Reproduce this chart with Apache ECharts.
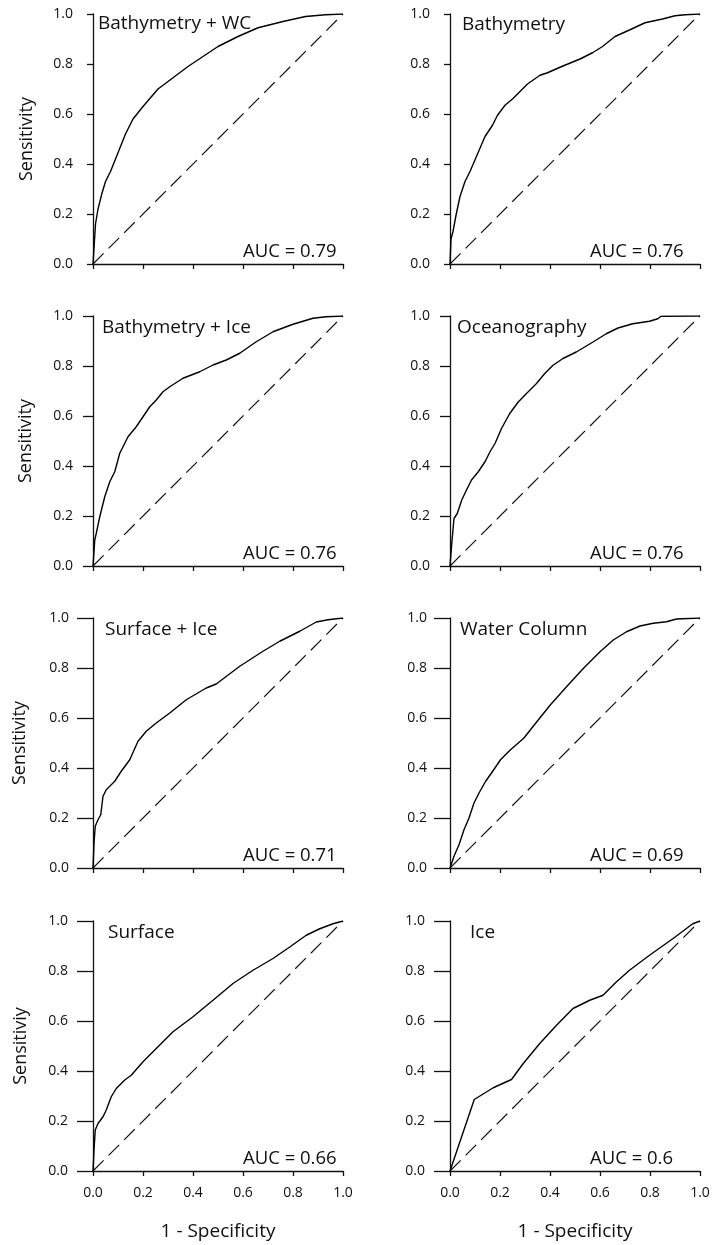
<!DOCTYPE html>
<html>
<head>
<meta charset="utf-8">
<script src="https://cdn.jsdelivr.net/npm/echarts@6/dist/echarts.min.js"></script>
<style>
  html, body { margin: 0; padding: 0; background: #fff; }
  #chart { width: 714px; height: 1245px; }
</style>
</head>
<body>
<div id="chart"></div>
<script>
// ROC curves for eight predictor sets: false positive rate (1 - specificity) vs. sensitivity
const panelNames = ['Bathymetry + WC', 'Bathymetry', 'Bathymetry + Ice', 'Oceanography',
                    'Surface + Ice', 'Water Column', 'Surface', 'Ice'];
const aucValues = ['0.79', '0.76', '0.76', '0.76', '0.71', '0.69', '0.66', '0.6'];
const yAxisNames = ['Sensitivity', 'Sensitivity', 'Sensitivity', 'Sensitiviy'];
const xAxisName = '1 - Specificity';
const tickValues = [0, 0.2, 0.4, 0.6, 0.8, 1.0];

const fprBathWC = [0, 0.005, 0.01, 0.02, 0.035, 0.05, 0.07, 0.09, 0.11, 0.13, 0.16, 0.2, 0.23, 0.26, 0.3, 0.34, 0.38, 0.44, 0.5, 0.58, 0.66, 0.76, 0.85, 0.93, 1];
const tprBathWC = [0, 0.08, 0.16, 0.22, 0.28, 0.33, 0.37, 0.42, 0.47, 0.52, 0.58, 0.63, 0.665, 0.70, 0.73, 0.76, 0.79, 0.83, 0.87, 0.91, 0.945, 0.97, 0.99, 0.997, 1];

const fprBath = [0, 0.004, 0.012, 0.025, 0.04, 0.06, 0.08, 0.11, 0.14, 0.17, 0.19, 0.22, 0.25, 0.28, 0.31, 0.36, 0.39, 0.44, 0.52, 0.57, 0.61, 0.66, 0.72, 0.78, 0.85, 0.9, 0.94, 1];
const tprBath = [0, 0.1, 0.13, 0.2, 0.27, 0.33, 0.37, 0.44, 0.51, 0.555, 0.595, 0.635, 0.66, 0.69, 0.72, 0.755, 0.765, 0.787, 0.82, 0.845, 0.87, 0.91, 0.937, 0.965, 0.98, 0.993, 0.997, 1];

const fprBathIce = [0, 0.007, 0.013, 0.027, 0.047, 0.067, 0.087, 0.107, 0.14, 0.173, 0.2, 0.227, 0.253, 0.28, 0.307, 0.36, 0.427, 0.48, 0.533, 0.587, 0.653, 0.72, 0.8, 0.88, 0.933, 1];
const tprBathIce = [0, 0.104, 0.13, 0.197, 0.277, 0.337, 0.377, 0.451, 0.517, 0.557, 0.597, 0.637, 0.664, 0.697, 0.717, 0.751, 0.777, 0.804, 0.824, 0.851, 0.897, 0.937, 0.967, 0.991, 0.997, 1];

const fprOcean = [0, 0.007, 0.016, 0.029, 0.047, 0.066, 0.086, 0.113, 0.14, 0.16, 0.18, 0.206, 0.239, 0.273, 0.306, 0.346, 0.379, 0.412, 0.452, 0.505, 0.572, 0.625, 0.672, 0.731, 0.798, 0.831, 0.844, 1];
const tprOcean = [0, 0.09, 0.19, 0.21, 0.264, 0.304, 0.344, 0.377, 0.417, 0.457, 0.49, 0.55, 0.61, 0.656, 0.69, 0.73, 0.77, 0.803, 0.83, 0.856, 0.896, 0.929, 0.952, 0.969, 0.979, 0.989, 0.999, 1];

const fprSurfIce = [0, 0.004, 0.009, 0.02, 0.031, 0.04, 0.053, 0.087, 0.113, 0.147, 0.18, 0.213, 0.253, 0.307, 0.373, 0.453, 0.493, 0.587, 0.68, 0.747, 0.827, 0.893, 0.94, 1];
const tprSurfIce = [0, 0.1, 0.167, 0.193, 0.213, 0.287, 0.313, 0.347, 0.387, 0.433, 0.507, 0.547, 0.58, 0.62, 0.673, 0.72, 0.736, 0.807, 0.867, 0.907, 0.947, 0.984, 0.993, 1];

const fprWater = [0, 0.016, 0.036, 0.056, 0.076, 0.096, 0.116, 0.142, 0.175, 0.202, 0.242, 0.295, 0.348, 0.401, 0.467, 0.534, 0.6, 0.653, 0.706, 0.76, 0.813, 0.866, 0.906, 1];
const tprWater = [0, 0.047, 0.093, 0.153, 0.2, 0.26, 0.3, 0.346, 0.393, 0.433, 0.473, 0.519, 0.586, 0.652, 0.726, 0.799, 0.865, 0.912, 0.945, 0.968, 0.979, 0.985, 0.996, 1];

const fprSurf = [0, 0.004, 0.009, 0.02, 0.04, 0.053, 0.073, 0.093, 0.127, 0.153, 0.2, 0.253, 0.32, 0.4, 0.48, 0.56, 0.64, 0.72, 0.787, 0.853, 0.907, 0.96, 1];
const tprSurf = [0, 0.084, 0.164, 0.19, 0.217, 0.244, 0.297, 0.33, 0.364, 0.383, 0.437, 0.49, 0.557, 0.617, 0.683, 0.75, 0.803, 0.85, 0.896, 0.943, 0.969, 0.989, 1];

const fprIce = [0, 0.097, 0.173, 0.246, 0.293, 0.359, 0.426, 0.492, 0.559, 0.612, 0.665, 0.718, 0.798, 0.891, 0.971, 1];
const tprIce = [0, 0.286, 0.333, 0.366, 0.43, 0.51, 0.583, 0.65, 0.683, 0.703, 0.756, 0.803, 0.863, 0.929, 0.989, 1];

const panelFpr = [fprBathWC, fprBath, fprBathIce, fprOcean, fprSurfIce, fprWater, fprSurf, fprIce];
const panelTpr = [tprBathWC, tprBath, tprBathIce, tprOcean, tprSurfIce, tprWater, tprSurf, tprIce];

// layout
const FONT = '"Open Sans", "Noto Sans", sans-serif';
const INK = '#111';
const colLeft = [93, 450];
const rowTop = [14, 316, 618, 921];
const SIZE = 250;
const yTickLen = [6, 10, 16, 16];
const yLabelMargin = [[20, 20], [20, 20], [24, 23], [25, 25]];
const titleOffset = [[5, 10], [12, 11], [9, 12], [7, 12], [12, 12], [10, 12], [15, 12], [20, 12]];
const aucOffset = [150, 140];
const yNameX = [27, 26, 20, 21];

const chart = echarts.init(document.getElementById('chart'), null, { renderer: 'canvas' });

const grids = [], xAxes = [], yAxes = [], series = [], graphics = [];

for (let i = 0; i < 8; i++) {
  const row = Math.floor(i / 2), col = i % 2;
  const left = colLeft[col], top = rowTop[row];
  const bottomRow = row === 3;
  grids.push({ left: left, top: top, width: SIZE, height: SIZE, containLabel: false });
  const axisLine = { show: true, lineStyle: { color: INK, width: 1.3 } };
  xAxes.push({
    type: 'value', gridIndex: i, min: 0, max: 1, interval: 0.2,
    axisLine: axisLine,
    axisTick: { show: true, inside: false, length: 5, lineStyle: { color: INK, width: 1.3 } },
    axisLabel: {
      show: bottomRow, margin: 15, fontFamily: FONT, fontSize: 14, color: INK,
      formatter: v => v.toFixed(1)
    },
    splitLine: { show: false }
  });
  yAxes.push({
    type: 'value', gridIndex: i, min: 0, max: 1, interval: 0.2,
    axisLine: axisLine,
    axisTick: { show: true, inside: false, length: yTickLen[row], lineStyle: { color: INK, width: 1.3 } },
    axisLabel: {
      show: true, margin: yLabelMargin[row][col], fontFamily: FONT, fontSize: 14, color: INK,
      formatter: v => v.toFixed(1)
    },
    splitLine: { show: false }
  });
  series.push({
    type: 'line', xAxisIndex: i, yAxisIndex: i, symbol: 'none', smooth: false,
    lineStyle: { color: '#000', width: 1.4 },
    data: panelFpr[i].map((x, k) => [x, panelTpr[i][k]]),
    silent: true, z: 3
  });
  series.push({
    type: 'line', xAxisIndex: i, yAxisIndex: i, symbol: 'none',
    lineStyle: { color: '#111', width: 1.2, type: [15, 7] },
    data: [[tickValues[0], tickValues[0]], [tickValues[5], tickValues[5]]],
    silent: true, z: 2
  });
  // panel title
  graphics.push({
    type: 'text', x: left + titleOffset[i][0], y: top + titleOffset[i][1],
    style: { text: panelNames[i], font: '19px ' + FONT, fill: INK, align: 'left', verticalAlign: 'middle' }
  });
  // AUC annotation
  graphics.push({
    type: 'text', x: left + aucOffset[col], y: top + SIZE - 12,
    style: { text: 'AUC = ' + aucValues[i], font: '18.5px ' + FONT, fill: INK, align: 'left', verticalAlign: 'middle' }
  });
  if (col === 0) {
    graphics.push({
      type: 'text', x: yNameX[row], y: top + SIZE / 2, rotation: Math.PI / 2,
      style: { text: yAxisNames[row], font: '18px ' + FONT, fill: INK, align: 'center', verticalAlign: 'middle' }
    });
  }
  if (bottomRow) {
    graphics.push({
      type: 'text', x: left + SIZE / 2, y: 1232,
      style: { text: xAxisName, font: '19px ' + FONT, fill: INK, align: 'center', verticalAlign: 'middle' }
    });
  }
}

chart.setOption({
  animation: false,
  backgroundColor: '#fff',
  grid: grids,
  xAxis: xAxes,
  yAxis: yAxes,
  series: series,
  graphic: graphics
});
</script>
</body>
</html>
